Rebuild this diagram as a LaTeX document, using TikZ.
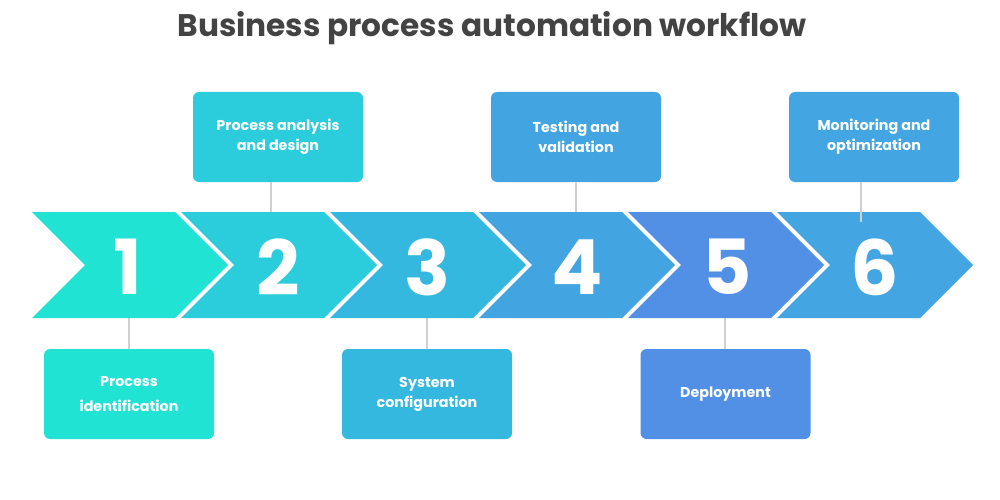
\documentclass[tikz,border=0pt]{standalone}
\usepackage{fontspec}
\setmainfont{Poppins}
\definecolor{titlecol}{HTML}{434343}
\definecolor{cA}{HTML}{21E3D4}
\definecolor{cB}{HTML}{2BCDDC}
\definecolor{cC}{HTML}{34B8DF}
\definecolor{cD}{HTML}{42A5E1}
\definecolor{cE}{HTML}{5190E4}
\definecolor{cF}{HTML}{43A6E2}
\definecolor{linecol}{HTML}{D0D0D0}
\tikzset{
  stepbox/.style={rounded corners=6pt, minimum width=170pt, minimum height=90pt, inner sep=0pt,
    text=white, align=center, font=\bfseries\fontsize{14.3}{20}\selectfont},
  numlabel/.style={text=white, font=\bfseries\fontsize{76}{76}\selectfont, inner sep=0pt},
  link/.style={draw=linecol, line width=1.2pt}
}
\newcommand{\chev}[2]{%
  \fill[#2] (#1,212) -- (#1+143,212) -- (#1+196,265) -- (#1+143,318) -- (#1,318) -- (#1+53,265) -- cycle;}
\begin{document}
\begin{tikzpicture}[x=1pt,y=-1pt]
\useasboundingbox (0,0) rectangle (1000,500);
\fill[white] (0,0) rectangle (1000,500);
\node[text=titlecol, font=\bfseries\fontsize{31.2}{36}\selectfont, anchor=base] (title) at (492,37) {Business process automation workflow};

% connectors (behind)
\coordinate (t2) at (271,212);
\coordinate (t4) at (576,212);
\coordinate (t6) at (861,222);
\coordinate (s1) at (129,318);
\coordinate (s3) at (427,318);
\coordinate (s5) at (725,318);

\node[stepbox, fill=cA] (b1) at (129,394) {Process\\[5pt]identification};
\node[stepbox, fill=cB] (b2) at (278,137) {Process analysis\\and design};
\node[stepbox, fill=cC] (b3) at (427,394) {System\\configuration};
\node[stepbox, fill=cD] (b4) at (576,137) {Testing and\\validation};
\node[stepbox, fill=cE] (b5) at (725.5,394) {Deployment};
\node[stepbox, fill=cF] (b6) at (874,137) {Monitoring and\\optimization};

\draw[link] (b1.north) -- (s1);
\draw[link] (b2.south -| t2) -- (t2);
\draw[link] (b3.north) -- (s3);
\draw[link] (b4.south) -- (t4);
\draw[link] (b5.north -| s5) -- (s5);

\chev{32}{cA}
\chev{181}{cB}
\chev{330}{cC}
\chev{479}{cD}
\chev{628}{cE}
\chev{777}{cF}

\draw[link] (b6.south -| t6) -- (t6);

\node[numlabel] (n1) at (128,267) {1};
\node[numlabel] (n2) at (278,267) {2};
\node[numlabel] (n3) at (427,267) {3};
\node[numlabel] (n4) at (577,267) {4};
\node[numlabel] (n5) at (727,267) {5};
\node[numlabel] (n6) at (875,267) {6};
\end{tikzpicture}
\end{document}
